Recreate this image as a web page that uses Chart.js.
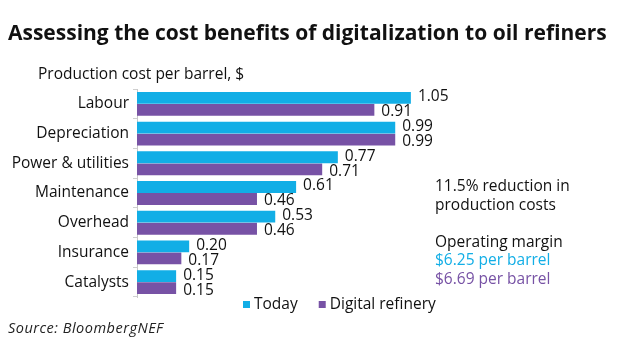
<!DOCTYPE html>
<html>
<head>
<meta charset="utf-8">
<script src="https://cdn.jsdelivr.net/npm/chart.js@4"></script>
<style>
  body { margin: 0; background: #fff; }
  #wrap { width: 620px; height: 350px; position: relative; }
</style>
</head>
<body>
<div id="wrap"><canvas id="myChart" width="620" height="350"></canvas></div>
<script>
// data
var categories = ["Labour", "Depreciation", "Power & utilities", "Maintenance", "Overhead", "Insurance", "Catalysts"];
var today = [1.05, 0.99, 0.77, 0.61, 0.53, 0.20, 0.15];
var digital = [0.91, 0.99, 0.71, 0.46, 0.46, 0.17, 0.15];
var seriesNames = ["Today", "Digital refinery"];
var noteLines = ["11.5% reduction in", "production costs", "", "Operating margin", "$6.25 per barrel", "$6.69 per barrel"];

var cyan = "#12aee6";
var purple = "#7752a5";
var fontName = "'Open Sans', 'Noto Sans', sans-serif";

// title, notes, value labels and legend
var extras = {
  id: "extras",
  afterDraw: function (chart) {
    var ctx = chart.ctx;
    ctx.save();
    ctx.fillStyle = "#111";
    ctx.textBaseline = "alphabetic";
    ctx.textAlign = "left";
    ctx.font = "bold 21px " + fontName;
    ctx.fillText("Assessing the cost benefits of digitalization to oil refiners", 8, 40);
    ctx.font = "15.5px " + fontName;
    ctx.fillText("Production cost per barrel, $", 38, 79);

    // value labels at bar ends (pair spread a little apart, as in the original)
    ctx.textBaseline = "middle";
    var shift = [-1, 2];
    chart.data.datasets.forEach(function (ds, i) {
      chart.getDatasetMeta(i).data.forEach(function (bar, j) {
        ctx.fillStyle = "#111";
        ctx.fillText(ds.data[j].toFixed(2), bar.x + 7, bar.y + shift[i]);
      });
    });

    // notes on the right
    ctx.textBaseline = "alphabetic";
    var colors = ["#111", "#111", "#111", "#111", cyan, purple];
    noteLines.forEach(function (t, k) {
      ctx.fillStyle = colors[k];
      ctx.fillText(t, 435, 191 + k * 18.6);
    });

    // legend
    var lx = 243;
    [cyan, purple].forEach(function (c, k) {
      ctx.fillStyle = c;
      ctx.fillRect(lx, 301, 7, 7);
      ctx.fillStyle = "#111";
      ctx.fillText(seriesNames[k], lx + 11, 309);
      lx += 11 + ctx.measureText(seriesNames[k]).width + 21;
    });

    ctx.font = "italic 14.5px " + fontName;
    ctx.letterSpacing = "0.5px";
    ctx.fillStyle = "#222";
    ctx.fillText("Source: BloombergNEF", 8, 333);
    ctx.restore();
  }
};

new Chart("myChart", {
  type: "bar",
  data: {
    labels: categories,
    datasets: [
      { label: seriesNames[0], data: today, backgroundColor: cyan },
      { label: seriesNames[1], data: digital, backgroundColor: purple }
    ]
  },
  options: {
    indexAxis: "y",
    responsive: false,
    animation: false,
    layout: { padding: { top: 89, bottom: 53, right: 170, left: 0 } },
    datasets: { bar: { categoryPercentage: 0.81, barPercentage: 0.98 } },
    plugins: { legend: { display: false }, tooltip: { enabled: false } },
    scales: {
      x: { display: false, min: 0, max: 1.2 },
      y: {
        afterFit: function (s) { s.width = 137; },
        border: { display: true, color: "#c8c8c8", width: 1 },
        grid: { offset: true, drawOnChartArea: false, tickLength: 4, color: "#cfcfcf" },
        ticks: { color: "#111", padding: 4, font: { family: fontName, size: 15.5 } }
      }
    }
  },
  plugins: [extras]
});
</script>
</body>
</html>
